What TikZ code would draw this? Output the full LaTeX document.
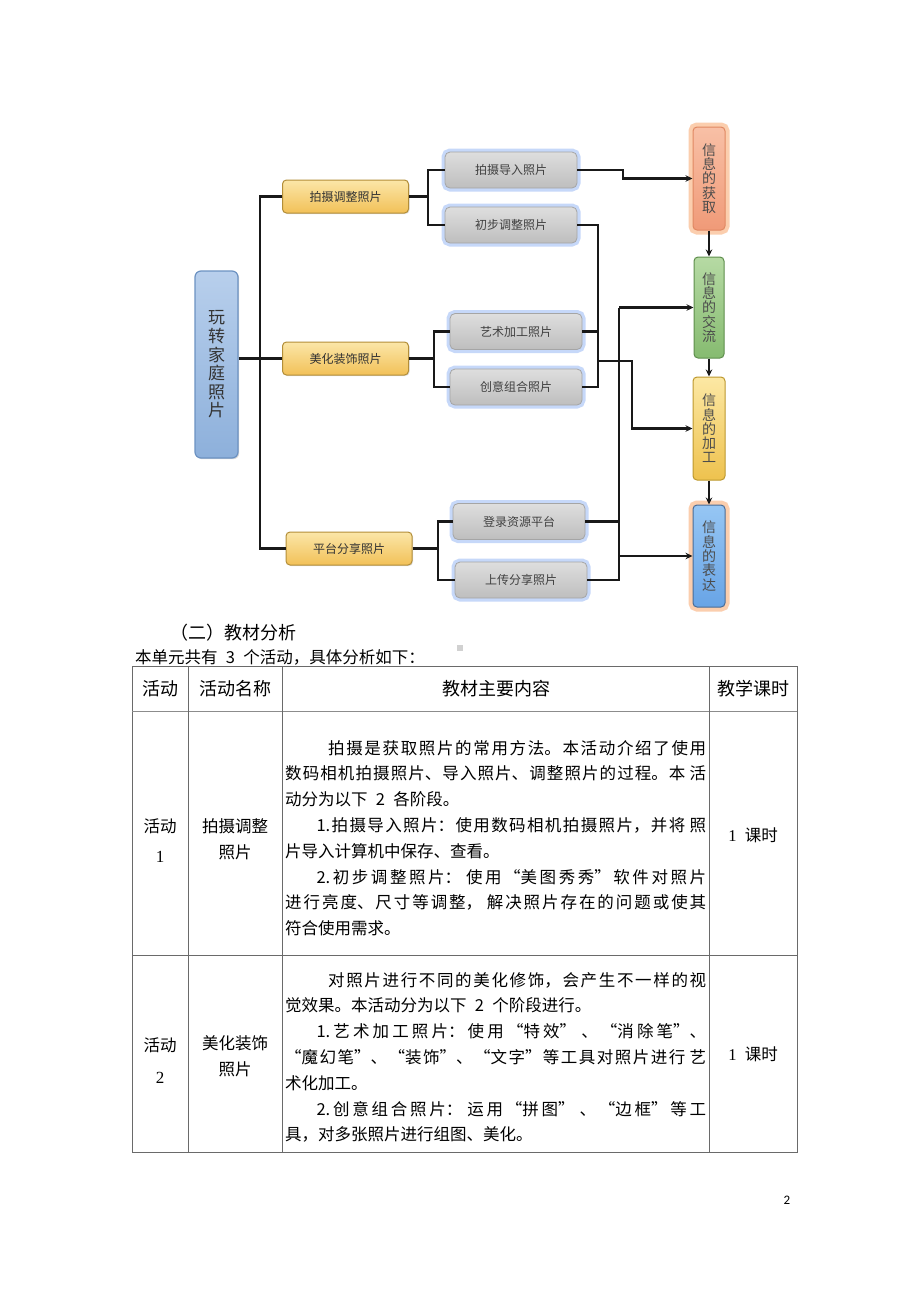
\documentclass[tikz,border=0pt]{standalone}
\usepackage{fontspec}
\setmainfont{Noto Sans CJK SC}
\newfontfamily\cjk{Noto Sans CJK SC}
\newfontfamily\serifl{Liberation Serif}
\newfontfamily\calf{Carlito}
\usetikzlibrary{arrows.meta,shadows}
\XeTeXlinebreaklocale "zh"
\XeTeXlinebreakskip=0pt plus 4pt
\definecolor{rootT}{HTML}{B8CFEC}
\definecolor{rootM}{HTML}{8DB0DB}
\definecolor{rootD}{HTML}{6C92C2}
\definecolor{yelT}{HTML}{FBE6A8}
\definecolor{yelB}{HTML}{F2C158}
\definecolor{yelD}{HTML}{B38E38}
\definecolor{grayT}{HTML}{DEDEDE}
\definecolor{grayB}{HTML}{BEBEBE}
\definecolor{grayD}{HTML}{A5A5A5}
\definecolor{glowB}{HTML}{8FB2F4}
\definecolor{glowO}{HTML}{F9A66C}
\definecolor{oraT}{HTML}{F8C0A6}
\definecolor{oraB}{HTML}{F09A78}
\definecolor{oraD}{HTML}{E08862}
\definecolor{grnT}{HTML}{B6DAA4}
\definecolor{grnB}{HTML}{86BB70}
\definecolor{grnD}{HTML}{5E8E4C}
\definecolor{golT}{HTML}{FCE8A4}
\definecolor{golB}{HTML}{EEC24E}
\definecolor{golD}{HTML}{BD982E}
\definecolor{bluT}{HTML}{96C6F4}
\definecolor{bluB}{HTML}{68A4E6}
\definecolor{bluD}{HTML}{4A6C96}
\definecolor{tblline}{HTML}{6A6A6A}
\begin{document}
\begin{tikzpicture}[x=1pt,y=-1pt,
  conn/.style={line width=2.3pt, draw=black!90},
  arr/.style={-{Stealth[length=7pt,width=6.5pt]}},
  rootbox/.style={draw=rootD, line width=1.2pt, rounded corners=6pt, top color=rootT, bottom color=rootM,
     minimum width=43pt, minimum height=187pt, inner sep=0pt, align=center, text=black!80,
     font=\fontsize{17}{18.6}\selectfont,
     drop shadow={shadow xshift=1.2pt, shadow yshift=-1.2pt, opacity=0.3}},
  ybox/.style={draw=yelD, line width=1pt, rounded corners=4pt, top color=yelT, bottom color=yelB,
     minimum width=126pt, minimum height=33pt, inner sep=0pt, font=\fontsize{12}{14}\selectfont, text=black!80,
     drop shadow={shadow xshift=1pt, shadow yshift=-1pt, opacity=0.25}},
  gbox/.style={draw=grayD, line width=0.8pt, rounded corners=5pt, top color=grayT, bottom color=grayB,
     minimum width=132pt, minimum height=36pt, inner sep=0pt, font=\fontsize{12}{14}\selectfont, text=black!75,
     preaction={draw=glowB, line width=7pt, opacity=0.5}},
  vbox/.style={rounded corners=4pt, minimum width=32pt, minimum height=103pt, inner sep=0pt, align=center,
     font=\fontsize{14}{14.3}\selectfont, text=black!70, line width=1pt},
  tbl/.style={draw=tblline, line width=1pt},
  cell/.style={inner sep=0pt, font=\fontsize{16.5}{20}\selectfont, text=black},
  head/.style={inner sep=0pt, font=\fontsize{18}{20}\selectfont, text=black}
]
\useasboundingbox[fill=white] (0,0) rectangle (920,1302);

% ---------- diagram nodes ----------
\node[rootbox] (root) at (216.5,364.5) {玩\\转\\家\\庭\\照\\片};

\node[ybox] (y1) at (345.5,196.5) {拍摄调整照片};
\node[ybox] (y2) at (345.5,358.5) {美化装饰照片};
\node[ybox] (y3) at (349,548.5) {平台分享照片};

\node[gbox] (g1) at (511,170) {拍摄导入照片};
\node[gbox] (g2) at (511,225) {初步调整照片};
\node[gbox] (g3) at (516,331.5) {艺术加工照片};
\node[gbox] (g4) at (516,387) {创意组合照片};
\node[gbox] (g5) at (519,521.5) {登录资源平台};
\node[gbox] (g6) at (521,580) {上传分享照片};

\node[vbox, draw=oraD, top color=oraT, bottom color=oraB, preaction={draw=glowO, line width=9pt, opacity=0.55}] (r1) at (709,178.5) {信\\息\\的\\获\\取};
\node[vbox, draw=grnD, top color=grnT, bottom color=grnB, minimum width=30pt, minimum height=101pt] (r2) at (709,307.5) {信\\息\\的\\交\\流};
\node[vbox, draw=golD, top color=golT, bottom color=golB] (r3) at (709,428.5) {信\\息\\的\\加\\工};
\node[vbox, draw=bluD, top color=bluT, bottom color=bluB, minimum height=102pt, preaction={draw=glowO, line width=9pt, opacity=0.55}] (r4) at (709,556) {信\\息\\的\\表\\达};

% ---------- connectors ----------
\coordinate (tb) at (260,548.5);
\coordinate (b1) at (428,196.5);
\coordinate (b2) at (434,358.5);
\coordinate (b3) at (438,548.5);
\coordinate (k1) at (623,170);
\coordinate (c1) at (598,361);
\coordinate (c2) at (632,361);
\coordinate (d1) at (619,307.5);

\draw[conn] (y1.west) -| (tb) -- (y3.west);
\draw[conn] (root.east |- y2.west) -- (y2.west);
\draw[conn] (y1.east) -- (b1);
\draw[conn] (g1.west) -| (b1) |- (g2.west);
\draw[conn] (y2.east) -- (b2);
\draw[conn] (g3.west) -| (b2) |- (g4.west);
\draw[conn] (y3.east) -- (b3);
\draw[conn] (g5.west) -| (b3) |- (g6.west);

\draw[conn,arr] (g1.east) -- (k1) |- (r1.west);
\draw[conn] (g2.east) -| (c1);
\draw[conn] (g3.east) -- (g3.east -| c1);
\draw[conn] (g4.east) -| (c1);
\draw[conn,arr] (c1) -- (c2) |- (r3.west);
\draw[conn] (g6.east) -| (d1);
\draw[conn] (g5.east) -- (g5.east -| d1);
\draw[conn,arr] (d1) -- (r2.west);
\draw[conn,arr] (d1 |- r4.west) -- (r4.west);

\draw[conn,arr] (r1.south) -- (r2.north);
\draw[conn,arr] (r2.south) -- (r3.north);
\draw[conn,arr] (r3.south) -- (r4.north);

% ---------- text part ----------
\node[anchor=west, inner sep=0pt, font=\fontsize{18}{20}\selectfont] (sec) at (170,633) {（二）教材分析};
\node[anchor=west, inner sep=0pt, font=\fontsize{16.5}{20}\selectfont] (intro) at (135,657) {本单元共有\enspace 3\enspace 个活动，具体分析如下：};
\node[fill=black!18, minimum size=6pt, inner sep=0pt] (dot) at (460,648) {};

% table
\draw[tbl] (132,666) rectangle (797,1152);
\draw[tbl, draw=black!45] (132,711) -- (797,711);
\draw[tbl] (132,955) -- (797,955);
\draw[tbl] (188,666) -- (188,1152);
\draw[tbl] (282,666) -- (282,1152);
\draw[tbl] (709,666) -- (709,1152);

\node[head] (h1) at (160,689) {活动};
\node[head] (h2) at (235,689) {活动名称};
\node[head] (h3) at (496,689) {教材主要内容};
\node[head] (h4) at (753,689) {教学课时};

\node[cell] (a1) at (160,826) {活动};
\node[cell, font=\serifl\fontsize{17}{20}\selectfont] (a1n) at (160,857) {1};
\node[cell] (n1a) at (235,826) {拍摄调整};
\node[cell] (n1b) at (235,852) {照片};
\node[cell] (t1) at (753,835) {{\serifl 1}\enspace 课时};

\node[anchor=base west, inner sep=0pt] (p1) at (285,754) {\parbox[t]{421pt}{\fontsize{16.5}{25.8}\selectfont%
\hspace*{2.6em}拍摄是获取照片的常用方法。本活动介绍了使用\linebreak 数码相机拍摄照片、导入照片、调整照片的过程。本 活\linebreak 动分为以下\enspace 2\enspace 各阶段。\par
\hspace*{1.9em}1.拍摄导入照片：使用数码相机拍摄照片，并将 照\linebreak 片导入计算机中保存、查看。\par
\hspace*{1.9em}2.初步调整照片： 使用“美图秀秀”软件对照片\linebreak 进行亮度、尺寸等调整， 解决照片存在的问题或使其\linebreak 符合使用需求。}};

\node[cell] (a2) at (160,1045) {活动};
\node[cell, font=\serifl\fontsize{17}{20}\selectfont] (a2n) at (160,1078) {2};
\node[cell] (n2a) at (235,1043) {美化装饰};
\node[cell] (n2b) at (235,1069) {照片};
\node[cell] (t2) at (753,1054) {{\serifl 1}\enspace 课时};

\node[anchor=base west, inner sep=0pt] (p2) at (285,986) {\parbox[t]{421pt}{\fontsize{16.5}{25.8}\selectfont%
\hspace*{2.6em}对照片进行不同的美化修饰，会产生不一样的视\linebreak 觉效果。本活动分为以下\enspace 2\enspace 个阶段进行。\par
\hspace*{1.9em}1.艺术加工照片：使用“特效” 、“消除笔”、\linebreak “魔幻笔”、“装饰”、“文字”等工具对照片进行 艺\linebreak 术化加工。\par
\hspace*{1.9em}2.创意组合照片： 运用“拼图” 、“边框”等工\linebreak 具，对多张照片进行组图、美化。}};

\node[inner sep=0pt, font=\calf\fontsize{13}{15}\selectfont] (pg) at (787,1200) {2};
\end{tikzpicture}
\end{document}
